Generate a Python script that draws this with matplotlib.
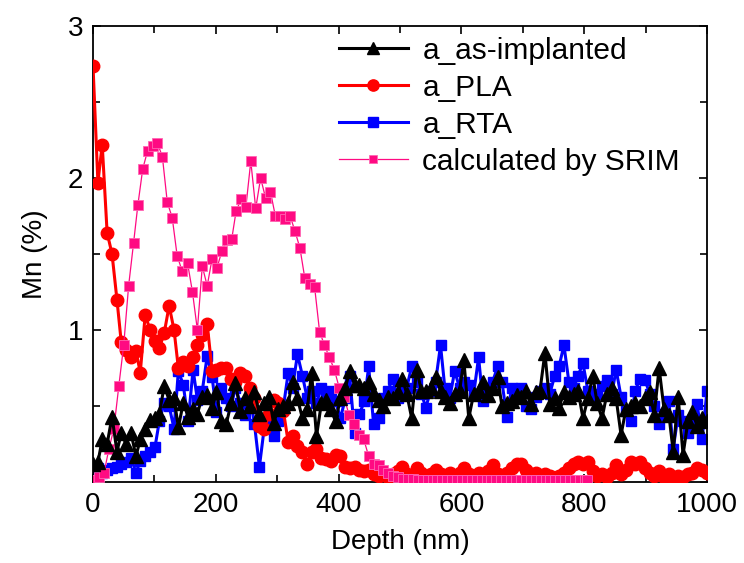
import numpy as np
import matplotlib.pyplot as plt
from matplotlib.ticker import MultipleLocator

plt.rcParams['font.family'] = ['Liberation Sans', 'DejaVu Sans']

# measured depth grid (nm), shared by the three SIMS profiles
depth = [0, 8, 15, 23, 31, 39, 46, 54, 62, 70, 77, 85, 93, 101, 108, 116, 124, 132, 139, 147,
         155, 163, 170, 178, 186, 194, 201, 209, 217, 225, 232, 240, 248, 256, 263, 271, 279, 287, 294, 302,
         310, 318, 325, 333, 341, 349, 356, 364, 372, 380, 387, 395, 403, 411, 418, 426, 434, 442, 449, 457,
         465, 473, 480, 488, 496, 504, 511, 519, 527, 535, 542, 550, 558, 566, 573, 581, 589, 597, 604, 612,
         620, 628, 635, 643, 651, 659, 666, 674, 682, 690, 697, 705, 713, 721, 728, 736, 744, 752, 759, 767,
         775, 783, 790, 798, 806, 814, 821, 829, 837, 845, 852, 860, 868, 876, 883, 891, 899, 907, 914, 922,
         930, 938, 945, 953, 961, 969, 976, 984, 992, 1000]

as_implanted = [0.12, 0.13, 0.28, 0.25, 0.43, 0.20, 0.32, 0.25, 0.32, 0.17, 0.28, 0.35, 0.41, 0.42, 0.45, 0.63, 0.54, 0.55, 0.36, 0.52,
                0.43, 0.48, 0.45, 0.56, 0.57, 0.49, 0.59, 0.40, 0.38, 0.52, 0.65, 0.47, 0.55, 0.50, 0.59, 0.45, 0.52, 0.56, 0.39, 0.48,
                0.50, 0.52, 0.66, 0.55, 0.42, 0.48, 0.72, 0.30, 0.52, 0.54, 0.48, 0.40, 0.55, 0.62, 0.73, 0.64, 0.64, 0.62, 0.66, 0.58,
                0.54, 0.50, 0.56, 0.55, 0.59, 0.68, 0.58, 0.42, 0.74, 0.60, 0.60, 0.62, 0.69, 0.60, 0.56, 0.52, 0.58, 0.60, 0.80, 0.42,
                0.58, 0.60, 0.66, 0.57, 0.62, 0.69, 0.50, 0.52, 0.53, 0.57, 0.56, 0.60, 0.51, 0.59, 0.60, 0.85, 0.51, 0.55, 0.49, 0.59,
                0.56, 0.58, 0.60, 0.42, 0.55, 0.70, 0.52, 0.42, 0.58, 0.62, 0.55, 0.31, 0.48, 0.50, 0.52, 0.50, 0.55, 0.59, 0.44, 0.75,
                0.48, 0.44, 0.20, 0.56, 0.18, 0.40, 0.46, 0.37, 0.42, 0.40]

pla = [2.74, 1.97, 2.22, 1.64, 1.50, 1.20, 0.92, 0.87, 0.82, 0.86, 0.72, 1.10, 1.00, 0.93, 0.88, 0.98, 1.16, 1.00, 0.75, 0.79,
       0.76, 0.82, 0.90, 0.97, 1.04, 0.73, 0.74, 0.75, 0.75, 0.68, 0.66, 0.72, 0.70, 0.62, 0.55, 0.37, 0.35, 0.45, 0.54, 0.52,
       0.47, 0.26, 0.30, 0.24, 0.20, 0.12, 0.20, 0.22, 0.16, 0.15, 0.14, 0.18, 0.17, 0.10, 0.09, 0.10, 0.08, 0.07, 0.08, 0.05,
       0.04, 0.06, 0.03, 0.05, 0.07, 0.10, 0.05, 0.04, 0.09, 0.06, 0.03, 0.05, 0.08, 0.05, 0.04, 0.06, 0.03, 0.06, 0.09, 0.05,
       0.04, 0.06, 0.03, 0.07, 0.11, 0.05, 0.04, 0.06, 0.09, 0.12, 0.12, 0.08, 0.05, 0.06, 0.03, 0.05, 0.04, 0.02, 0.04, 0.06,
       0.09, 0.12, 0.13, 0.12, 0.13, 0.07, 0.04, 0.05, 0.03, 0.06, 0.11, 0.05, 0.08, 0.13, 0.12, 0.13, 0.09, 0.06, 0.04, 0.07,
       0.03, 0.05, 0.02, 0.04, 0.03, 0.05, 0.06, 0.09, 0.08, 0.06]

rta = [0.08, 0.09, 0.06, 0.08, 0.09, 0.10, 0.12, 0.13, 0.16, 0.06, 0.14, 0.17, 0.20, 0.23, 0.40, 0.52, 0.50, 0.35, 0.73, 0.64,
       0.40, 0.74, 0.54, 0.60, 0.83, 0.69, 0.46, 0.62, 0.55, 0.50, 0.62, 0.52, 0.44, 0.56, 0.38, 0.10, 0.36, 0.40, 0.30, 0.40,
       0.49, 0.72, 0.62, 0.84, 0.70, 0.55, 0.60, 0.52, 0.62, 0.55, 0.60, 0.53, 0.42, 0.55, 0.70, 0.32, 0.45, 0.53, 0.76, 0.38,
       0.42, 0.55, 0.60, 0.68, 0.55, 0.60, 0.62, 0.76, 0.66, 0.58, 0.49, 0.60, 0.66, 0.90, 0.62, 0.55, 0.73, 0.62, 0.66, 0.64,
       0.58, 0.82, 0.53, 0.62, 0.66, 0.76, 0.66, 0.43, 0.62, 0.56, 0.62, 0.50, 0.48, 0.56, 0.60, 0.62, 0.58, 0.70, 0.76, 0.90,
       0.66, 0.62, 0.70, 0.78, 0.60, 0.55, 0.58, 0.63, 0.67, 0.58, 0.74, 0.56, 0.47, 0.40, 0.60, 0.68, 0.67, 0.58, 0.50, 0.38,
       0.45, 0.53, 0.22, 0.44, 0.40, 0.32, 0.40, 0.51, 0.28, 0.60]

# SRIM simulation
srim_depth = [2, 10, 18, 26, 34, 42, 50, 58, 66, 73, 81, 89, 97, 105, 113, 121, 129, 137, 145, 154,
              162, 170, 178, 186, 194, 202, 210, 218, 226, 233, 241, 249, 257, 265, 273, 281, 289, 297, 305, 313,
              321, 329, 337, 345, 353, 361, 369, 377, 385, 393, 401, 409, 417, 425, 433, 441, 449, 457, 465, 473,
              481, 489, 497, 505, 513, 521, 529, 537, 545, 553, 561, 569, 577, 585, 593, 601, 609, 617, 625, 633,
              641, 649, 657, 665, 673, 681, 689, 697, 705, 713, 721, 729, 737, 745, 753, 761, 769, 777, 785, 793,
              801, 805]
srim = [0.01, 0.03, 0.06, 0.22, 0.35, 0.63, 0.90, 1.29, 1.57, 1.82, 2.06, 2.18, 2.21, 2.23, 2.14, 1.84, 1.74, 1.49, 1.39, 1.44,
        1.25, 1.00, 1.42, 1.29, 1.47, 1.41, 1.52, 1.59, 1.60, 1.78, 1.86, 1.81, 2.11, 1.80, 2.00, 1.87, 1.91, 1.75, 1.75, 1.73,
        1.75, 1.65, 1.54, 1.34, 1.30, 1.28, 0.99, 0.90, 0.82, 0.74, 0.62, 0.56, 0.44, 0.38, 0.31, 0.28, 0.17, 0.12, 0.11, 0.08,
        0.06, 0.04, 0.03, 0.02, 0.02, 0.02, 0.01, 0.01, 0.01, 0.01, 0.01, 0.01, 0.01, 0.01, 0.01, 0.01, 0.01, 0.01, 0.01, 0.01,
        0.01, 0.01, 0.01, 0.01, 0.01, 0.01, 0.01, 0.01, 0.01, 0.01, 0.01, 0.01, 0.01, 0.01, 0.01, 0.01, 0.01, 0.01, 0.01, 0.01,
        0.01, 0.01]

pink = '#FF0A82'

fig = plt.figure(figsize=(7.44, 5.63), dpi=100)
ax = fig.add_axes([93 / 744, 81 / 563, 614 / 744, 456 / 563])

l1, = ax.plot(depth, as_implanted, '-^', color='black', lw=2.2, ms=10, zorder=5, label='a_as-implanted')
l2, = ax.plot(depth, pla, '-o', color='red', lw=2.2, ms=9, zorder=3, label='a_PLA')
l3, = ax.plot(depth, rta, '-s', color='blue', lw=2.2, ms=7.5, zorder=2, label='a_RTA')
l4, = ax.plot(srim_depth, srim, '-s', color=pink, lw=0.9, ms=6.5, mec='#ff66b3', mew=0.6,
              zorder=4, label='calculated by SRIM')

ax.set_xlim(0, 1000)
ax.set_ylim(0, 3)
ax.set_xticks([0, 200, 400, 600, 800, 1000])
ax.set_yticks([1, 2, 3])
ax.xaxis.set_minor_locator(MultipleLocator(100))
ax.yaxis.set_minor_locator(MultipleLocator(0.5))
ax.tick_params(which='both', direction='in', top=True, right=True, width=1.2)
ax.tick_params(which='major', length=6, labelsize=20, pad=7)
ax.tick_params(which='minor', length=5)
for s in ax.spines.values():
    s.set_linewidth(1.3)

ax.set_xlabel('Depth (nm)', fontsize=20, labelpad=8)
ax.set_ylabel('Mn (%)', fontsize=20, labelpad=14)

ax.legend(handles=[l1, l2, l3, l4], loc='upper right', bbox_to_anchor=(1.0, 1.035),
          frameon=False, fontsize=21.5, handlelength=2.3, handletextpad=0.5,
          labelspacing=0.3, borderaxespad=0.5, markerscale=0.9)

fig.savefig('out.png', dpi=100)
